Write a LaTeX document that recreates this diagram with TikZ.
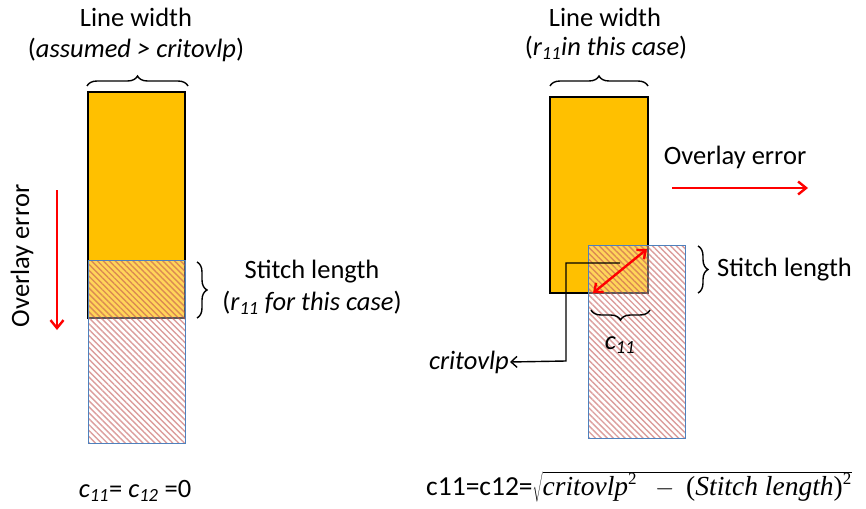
\documentclass[tikz,border=0pt]{standalone}
\usepackage{fontspec}
\setmainfont{Carlito}
\newfontfamily\mathtxt{Liberation Serif}
\newcommand\sqtwo{\mbox{\mathtxt\fontsize{17}{19}\selectfont 2}}
\usetikzlibrary{arrows.meta,positioning,calc,patterns.meta,decorations.pathreplacing}
\definecolor{lineorange}{HTML}{FFC000}
\definecolor{stitchred}{HTML}{C0504D}
\definecolor{edgeblue}{HTML}{4F81BD}
\tikzset{
  lbl/.style={font=\fontsize{26.5}{30}\selectfont, inner sep=1pt, align=center},
  wirebox/.style={fill=lineorange, draw=black, line width=1.4pt},
  veil/.style={fill=white, fill opacity=0.35},
  hatch/.style={pattern={Lines[angle=-45, distance=4.2pt, line width=1.4pt]}, pattern color=stitchred, opacity=0.55},
  edge/.style={draw=edgeblue, line width=0.9pt},
  brc/.style={decorate, decoration={brace, amplitude=10pt}, line width=1.4pt},
  redarr/.style={draw=red, line width=2.4pt, -{Straight Barb[length=8pt, width=13pt]}},
  ptr/.style={draw=black, line width=1.4pt, -{Straight Barb[length=6pt, width=11pt]}}
}
\begin{document}
\begin{tikzpicture}[x=1pt, y=-1pt]
\useasboundingbox (0,0) rectangle (866,508);
% left case: line wider than critovlp
\node[lbl] (lw1) at (136,17) {Line width};
\node[lbl] (lw1b) at (136,50) {(\textit{assumed > critovlp})};
\draw[wirebox] (88,92) rectangle (185,318);
\fill[veil] (88,260) rectangle (185,443);
\fill[hatch] (88,260) rectangle (185,443);
\draw[edge] (88,260) rectangle (185,443);
\draw[brc] (87,86) -- (188,86);
\draw[brc] (197,262) -- (197,318);
\node[lbl] (sl1) at (312,272) {Stitch length};
\node[lbl] (sl1b) at (312,303) {(\textit{r\textsubscript{11} for this case})};
\node[lbl, rotate=90] (oe1) at (22,256) {Overlay error};
\coordinate (oe1s) at (57,190);
\coordinate (oe1e) at (57,330);
\draw[redarr] (oe1s) -- (oe1e);
\node[lbl] (c1) at (135,491) {\textit{c\textsubscript{11}}= \textit{c\textsubscript{12}} =0};
% right case: line width = r11
\node[lbl] (lw2) at (605,17) {Line width};
\node[lbl] (lw2b) at (606,48) {(\textit{r\textsubscript{11}in this case})};
\draw[wirebox] (550,97) rectangle (648,293);
\fill[veil] (588,245) rectangle (685,438);
\fill[hatch] (588,245) rectangle (685,438);
\draw[edge] (588,245) rectangle (685,438);
\draw[brc] (550,86) -- (648,86);
\draw[brc] (698,246) -- (698,293);
\node[lbl, anchor=west] (sl2) at (716,270) {Stitch length};
\node[lbl] (oe2) at (735,157) {Overlay error};
\coordinate (oe2s) at (672,188);
\coordinate (oe2e) at (808,188);
\draw[redarr] (oe2s) -- (oe2e);
\coordinate (dgA) at (593,293);
\coordinate (dgB) at (647,249);
\draw[draw=red, line width=2.4pt, {Straight Barb[length=7pt, width=12pt]}-{Straight Barb[length=7pt, width=12pt]}] (dgA) -- (dgB);
\node[lbl, anchor=east] (crit) at (510,362) {\textit{critovlp}};
\coordinate (critA) at (620,263);
\coordinate (critB) at (566,361);
\draw[ptr] (critA) -| (critB) -- (crit.east);
\draw[brc] (650,310) -- (591,310);
\node[lbl] (c11) at (620,345) {\textit{c\textsubscript{11}}};
\node[lbl, font=\fontsize{27.5}{30}\selectfont] (fml) at (639,487) {c11=c12=$\sqrt{\mbox{\mathtxt\itshape critovlp}^{\sqtwo}\ \ -\ \mbox{\mathtxt(\itshape Stitch length\/\upshape)}^{\sqtwo}}$};
\end{tikzpicture}
\end{document}
